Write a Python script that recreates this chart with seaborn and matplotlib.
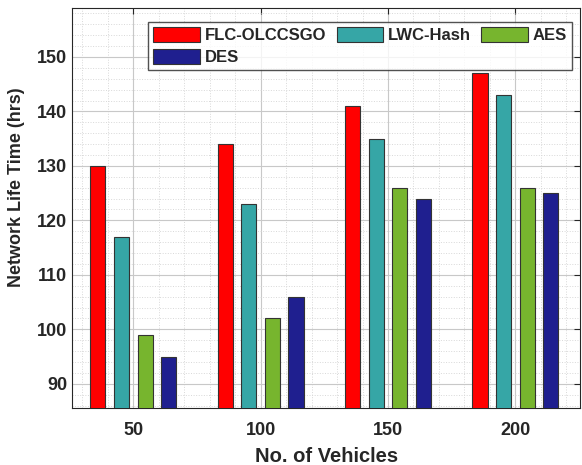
import matplotlib
matplotlib.use("Agg")
import matplotlib.pyplot as plt
from matplotlib.ticker import MultipleLocator
import seaborn as sns
import pandas as pd

vehicles = ["50", "100", "150", "200"]
methods = ["FLC-OLCCSGO", "LWC-Hash", "AES", "DES"]
flc = [130, 134, 141, 147]
lwc = [117, 123, 135, 143]
aes = [99, 102, 126, 126]
des = [95, 106, 124, 125]
colors = ["#FF0000", "#36A6A6", "#77B52E", "#1F1F8F"]

rows = []
for name, vals in zip(methods, [flc, lwc, aes, des]):
    for v, val in zip(vehicles, vals):
        rows.append({"Vehicles": v, "Method": name, "Life": val})
df = pd.DataFrame(rows)

sns.set_style("white")
plt.rcParams["font.family"] = ["Liberation Sans", "DejaVu Sans"]
plt.rcParams["font.weight"] = "bold"
plt.rcParams["text.color"] = "#262626"

fig = plt.figure(figsize=(5.82, 4.65), dpi=100)
ax = fig.add_axes([0.124, 0.123, 0.873, 0.860])

sns.barplot(data=df, x="Vehicles", y="Life", hue="Method", order=vehicles,
            hue_order=methods, palette=colors, width=0.74, gap=0.36,
            edgecolor="#333333", linewidth=0.8, saturation=1, ax=ax, zorder=3)

ax.set_xlim(-0.48, 3.51)
ax.set_ylim(85.6, 159)
ax.yaxis.set_major_locator(MultipleLocator(10))
ax.yaxis.set_minor_locator(MultipleLocator(2))
ax.xaxis.set_minor_locator(MultipleLocator(0.2))
ax.grid(True, which="major", color="#c8c8c8", linewidth=0.8, zorder=0)
ax.grid(True, which="minor", color="#d8d8d8", linestyle=":", linewidth=0.7, zorder=0)
ax.set_axisbelow(True)

ax.tick_params(axis="both", which="major", direction="in", length=4,
               labelsize=13, colors="#262626", top=True, right=True)
ax.tick_params(axis="x", which="major", pad=10)
ax.tick_params(axis="both", which="minor", length=0)
for lab in ax.get_xticklabels() + ax.get_yticklabels():
    lab.set_fontweight("bold")
for s in ax.spines.values():
    s.set_color("#262626")
    s.set_linewidth(0.8)

ax.set_xlabel("No. of Vehicles", fontsize=14.5, fontweight="bold")
ax.set_ylabel("Network Life Time (hrs)", fontsize=13, fontweight="bold")
ax.xaxis.set_label_coords(0.5, -0.097)
ax.yaxis.set_label_coords(-0.093, 0.5525)

# row-wise legend order: FLC, LWC, AES on top, DES below
handles, labels = ax.get_legend_handles_labels()
idx = [0, 3, 1, 2]
ax.legend([handles[i] for i in idx], [labels[i] for i in idx],
          loc="upper right", ncol=3, frameon=True, fancybox=False,
          edgecolor="#262626", handlelength=2.8, handleheight=1.0,
          columnspacing=0.6, handletextpad=0.3, borderpad=0.3,
          labelspacing=0.35, borderaxespad=0,
          bbox_to_anchor=(0.984, 0.965),
          prop={"weight": "bold", "size": 12})

fig.savefig("out.png", dpi=100)
